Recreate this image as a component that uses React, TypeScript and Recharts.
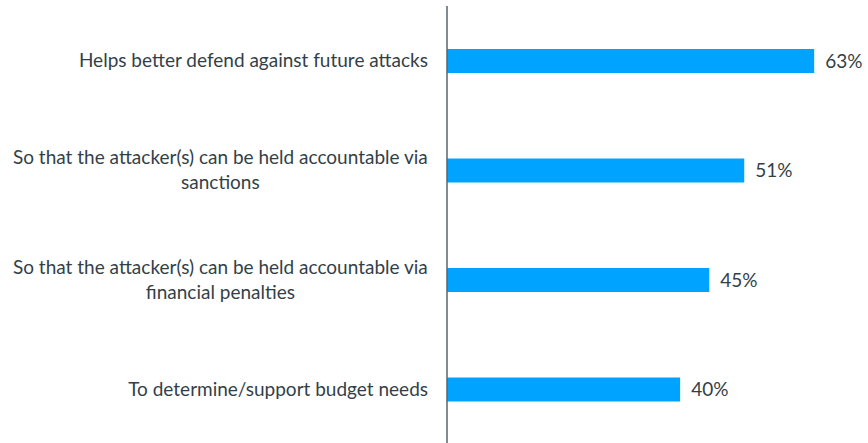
import React from "react";
import { BarChart, Bar, XAxis, YAxis, LabelList } from "recharts";

const reasons = [
  "Helps better defend against future attacks",
  "So that the attacker(s) can be held accountable via sanctions",
  "So that the attacker(s) can be held accountable via financial penalties",
  "To determine/support budget needs",
];
const shares = [63, 51, 45, 40];

const data = reasons.map((reason, i) => ({ reason, share: shares[i] }));

const BAR_COLOR = "#00A3FF";
const TEXT_COLOR = "#333F48";
const FONT = "Lato, 'Open Sans', sans-serif";
const FONT_SIZE = 19;
const LINE_HEIGHT = 25;

// word wrap roughly like the source's category labels
function wrap(text: string, maxChars = 52): string[] {
  const lines: string[] = [];
  let cur = "";
  for (const word of text.split(" ")) {
    const next = cur ? cur + " " + word : word;
    if (next.length > maxChars && cur) {
      lines.push(cur);
      cur = word;
    } else {
      cur = next;
    }
  }
  if (cur) lines.push(cur);
  return lines;
}

let ctx: CanvasRenderingContext2D | null = null;
function measure(text: string) {
  if (!ctx) ctx = document.createElement("canvas").getContext("2d");
  if (!ctx) return text.length * 9;
  ctx.font = `${FONT_SIZE}px Lato`;
  return ctx.measureText(text).width;
}

const ReasonTick = (props: any) => {
  const { x, y, payload } = props;
  const lines = wrap(payload.value);
  const right = x - 11;
  const shift = FONT_SIZE * 0.35;
  if (lines.length === 1) {
    return (
      <text x={right} y={y + shift} textAnchor="end" fill={TEXT_COLOR}
        fontSize={FONT_SIZE} fontFamily={FONT}>
        {lines[0]}
      </text>
    );
  }
  const widest = Math.max(...lines.map(measure));
  const cx = right - widest / 2;
  const top = y - ((lines.length - 1) * LINE_HEIGHT) / 2 + shift;
  return (
    <text textAnchor="middle" fill={TEXT_COLOR} fontSize={FONT_SIZE} fontFamily={FONT}>
      {lines.map((line, i) => (
        <tspan key={i} x={cx} y={top + i * LINE_HEIGHT}>
          {line}
        </tspan>
      ))}
    </text>
  );
};

export default function App() {
  return (
    <div style={{ position: "absolute", left: 0, top: 0, background: "#fff" }}>
      <BarChart
        width={868}
        height={444}
        data={data}
        layout="vertical"
        margin={{ top: 6, right: 13, bottom: 0, left: 0 }}
      >
        <XAxis type="number" domain={[0, 70]} hide />
        <YAxis
          type="category"
          dataKey="reason"
          width={447}
          axisLine={{ stroke: "#5B6469", strokeWidth: 1.5 }}
          tickLine={false}
          tick={<ReasonTick />}
          interval={0}
        />
        <Bar dataKey="share" fill={BAR_COLOR} barSize={24} isAnimationActive={false}>
          <LabelList
            dataKey="share"
            position="right"
            offset={11}
            formatter={(v: any) => `${v}%`}
            fill={TEXT_COLOR}
            fontSize={FONT_SIZE}
            fontFamily={FONT}
          />
        </Bar>
      </BarChart>
    </div>
  );
}
